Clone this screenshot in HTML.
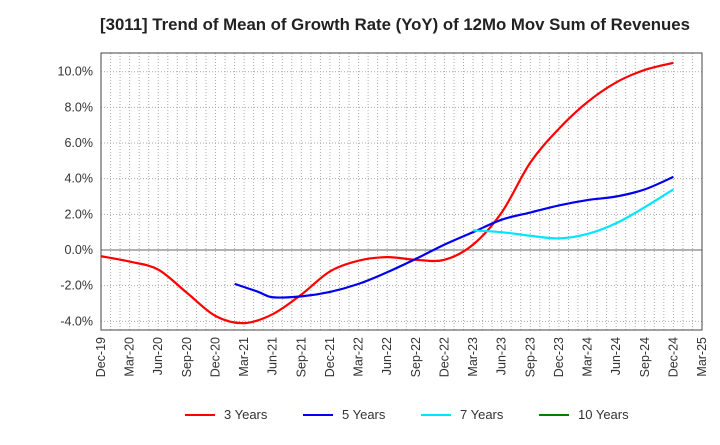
<!DOCTYPE html>
<html><head><meta charset="utf-8"><style>
body{margin:0;background:#fff;font-family:"Liberation Sans",sans-serif}
</style></head><body>
<svg id="c" width="720" height="440" xmlns="http://www.w3.org/2000/svg">
<text x="395" y="30" text-anchor="middle" font-size="16.8" font-weight="bold" fill="#222">[3011]  Trend of Mean of Growth Rate (YoY) of 12Mo Mov Sum of Revenues</text>
<g id="grid"></g><g id="axes"></g><g id="series"></g><g id="legend"></g>
</svg>
<script>
const xTicks=["Dec-19","Mar-20","Jun-20","Sep-20","Dec-20","Mar-21","Jun-21","Sep-21","Dec-21","Mar-22","Jun-22","Sep-22","Dec-22","Mar-23","Jun-23","Sep-23","Dec-23","Mar-24","Jun-24","Sep-24","Dec-24","Mar-25"];
const yTicks=[-4,-2,0,2,4,6,8,10];
const s3q=[0,1,2,3,4,5,6,7,8,9,10,11,12,13,14,15,16,17,18,19,20];
const s3=[-0.35,-0.65,-1.1,-2.4,-3.7,-4.1,-3.6,-2.5,-1.2,-0.6,-0.4,-0.55,-0.55,0.3,2.1,4.9,6.8,8.3,9.4,10.1,10.5];
const s5q=[4.67,5.5,6,7,8,9,10,11,12,13,14,15,16,17,18,19,20];
const s5=[-1.9,-2.35,-2.65,-2.6,-2.35,-1.9,-1.25,-0.5,0.3,1.0,1.7,2.1,2.5,2.8,3.0,3.4,4.1];
const s7q=[13,14,15,16,17,18,19,20];
const s7=[1.1,1.0,0.8,0.65,0.9,1.5,2.4,3.4];
const L=101,R=702,T=53,B=330;
const X=q=>L+q*(R-L)/21;
const Y=v=>250-v*17.83;
const NS="http://www.w3.org/2000/svg";
function mk(p,t,a){const e=document.createElementNS(NS,t);for(const k in a)e.setAttribute(k,a[k]);document.getElementById(p).appendChild(e);return e;}
for(let m=1;m<63;m++){const x=L+m*(R-L)/63;const g=mk('grid','line',{x1:x,x2:x,y1:T,y2:B,stroke:'#aaa','stroke-dasharray':'1,2'});

}
yTicks.forEach(v=>{const g=mk('grid','line',{x1:L,x2:R,y1:Y(v),y2:Y(v),stroke:v==0?'#666':'#aaa','stroke-dasharray':v==0?'':'1,2'});


const t=mk('axes','text',{x:L-8,y:Y(v)+4,'text-anchor':'end','font-size':12.5,fill:'#333'});t.textContent=v.toFixed(1)+'%';

});
const fr=mk('axes','rect',{x:L,y:T,width:R-L,height:B-T,fill:'none',stroke:'#444'});


xTicks.forEach((s,i)=>{const x=X(i);const t=mk('axes','text',{transform:`translate(${x+4},${B+7}) rotate(-90)`,'text-anchor':'end','font-size':12.5,fill:'#333'});t.textContent=s;

});
function path(qs,vs){const p=qs.map((q,i)=>[X(q),Y(vs[i])]);let d=`M${p[0][0]},${p[0][1]}`;
for(let i=0;i<p.length-1;i++){const p0=p[i-1]||p[i],p1=p[i],p2=p[i+1],p3=p[i+2]||p2;
d+=`C${p1[0]+(p2[0]-p0[0])/6},${p1[1]+(p2[1]-p0[1])/6} ${p2[0]-(p3[0]-p1[0])/6},${p2[1]-(p3[1]-p1[1])/6} ${p2[0]},${p2[1]}`;}return d;}
[[s3q,s3,'#ff0000','series-3-years'],[s5q,s5,'#0000ee','series-5-years'],[s7q,s7,'#00e5ff','series-7-years']].forEach(a=>{
const e=mk('series','path',{d:path(a[0],a[1]),fill:'none',stroke:a[2],'stroke-width':2.2});

});
[['3 Years','#ff0000',185],['5 Years','#0000ee',303],['7 Years','#00e5ff',421],['10 Years','#008000',539]].forEach(a=>{
const l=mk('legend','line',{x1:a[2],x2:a[2]+30,y1:415,y2:415,stroke:a[1],'stroke-width':2});


const t=mk('legend','text',{x:a[2]+39,y:419,'font-size':13,fill:'#333'});t.textContent=a[0];

});
</script>
</body></html>
